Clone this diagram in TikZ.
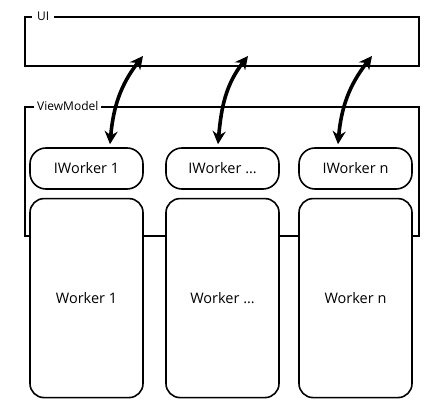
\documentclass[tikz,border=0pt]{standalone}
\usepackage{fontspec}
\setmainfont{Open Sans}
\usetikzlibrary{arrows.meta, positioning}

\begin{document}
\begin{tikzpicture}[x=1pt, y=1pt,
    frameBox/.style={draw=borderColour, line width=2pt, minimum width=394pt, inner sep=0pt},
    frameLabel/.style={fill=white, inner xsep=3pt, inner ysep=1pt, anchor=west, font=\fontsize{12}{14}\selectfont},
    iworkerBox/.style={draw=borderColour, line width=1.6pt, fill=white, rounded corners=16pt,
        minimum width=113pt, minimum height=41pt, inner sep=0pt, font=\fontsize{14.5}{16}\selectfont},
    workerBox/.style={draw=borderColour, line width=1.6pt, fill=white, rounded corners=14pt,
        minimum width=113pt, minimum height=199pt, inner sep=0pt, font=\fontsize{14.5}{16}\selectfont},
    biArrow/.style={line width=3.6pt, draw=borderColour,
        {Stealth[length=13pt, width=13pt]}-{Stealth[length=13pt, width=13pt]}}]

    \definecolor{borderColour}{HTML}{000000}

    % Fix the page size
    \useasboundingbox (0,0) rectangle (436,412);

    % Draw the UI frame
    \node[frameBox, minimum height=49pt] (ui) at (222,370.5) {};
    \node[frameLabel, font=\fontsize{12}{14}\selectfont, inner xsep=5pt] (uiLabel) at ([xshift=8pt]ui.north west) {UI};

    % Draw the ViewModel frame
    \node[frameBox, minimum height=129pt] (vm) at (222,240.5) {};
    \node[frameLabel] (vmLabel) at ([xshift=10pt]vm.north west) {ViewModel};

    % Draw the interfaces
    \node[iworkerBox] (iw1) at (86.5,243.5) {IWorker 1};
    \node[iworkerBox] (iw2) at (222.5,243.5) {IWorker \dots};
    \node[iworkerBox] (iw3) at (355.5,243.5) {IWorker n};

    % Draw the workers
    \node[workerBox, below=8pt of iw1] (w1) {Worker 1};
    \node[workerBox, below=8pt of iw2] (w2) {Worker \dots};
    \node[workerBox, below=8pt of iw3] (w3) {Worker n};

    % Define the arrow ends inside the UI frame
    \coordinate (uiEnd1) at (143,356);
    \coordinate (uiEnd2) at (248,356);
    \coordinate (uiEnd3) at (372,356);

    % Draw the links between UI and interfaces
    \draw[biArrow] ([xshift=23.5pt,yshift=3pt]iw1.north) to[out=85, in=232] (uiEnd1);
    \draw[biArrow] ([xshift=-4.5pt,yshift=3pt]iw2.north) to[out=85, in=232] (uiEnd2);
    \draw[biArrow] ([xshift=-17.5pt,yshift=3pt]iw3.north) to[out=85, in=232] (uiEnd3);

\end{tikzpicture}
\end{document}
